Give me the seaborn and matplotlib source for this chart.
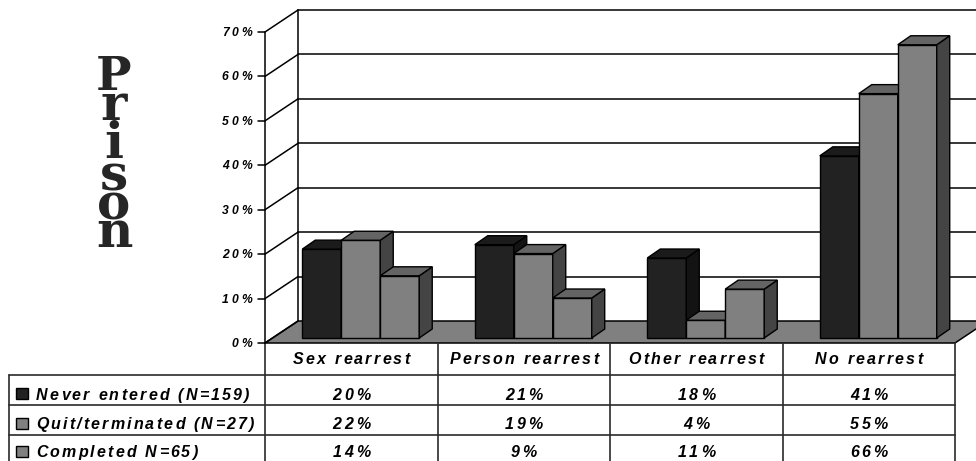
import numpy as np
import pandas as pd
import matplotlib
matplotlib.use("Agg")
import matplotlib.pyplot as plt
from matplotlib.patches import Polygon, Rectangle
from matplotlib import font_manager as fm
from matplotlib.ft2font import FT2Font
import seaborn as sns

# ---- data ----
categories = ["Sex rearrest", "Person rearrest", "Other rearrest", "No rearrest"]
groups = ["Never entered (N=159)", "Quit/terminated (N=27)", "Completed N=65)"]
never_entered = [20, 21, 18, 41]
quit_terminated = [22, 19, 4, 55]
completed = [14, 9, 11, 66]
tick_values = [0, 10, 20, 30, 40, 50, 60, 70]
side_title = "Prison"

series = [never_entered, quit_terminated, completed]
df = pd.DataFrame(
    [(c, g, v) for g, vals in zip(groups, series) for c, v in zip(categories, vals)],
    columns=["category", "group", "value"],
)

# ---- styling ----
W, H, DPI = 976, 461, 100
front_colors = ["#222222", "#808080", "#808080"]
top_colors = ["#1b1b1b", "#646464", "#646464"]
side_colors = ["#131313", "#444444", "#444444"]
floor_color = "#808080"
line_color = "#2a2a2a"

sns.set_style("white")
fig = plt.figure(figsize=(W / DPI, H / DPI), dpi=DPI)

# decoration layer in pixel coordinates
deco = fig.add_axes([0, 0, 1, 1])
deco.set_xlim(0, W)
deco.set_ylim(H, 0)
deco.set_axis_off()

# front plane of the chart box
x_front_l, x_front_r = 265, 955
y_zero = 343
px_per_pct = 4.443
depth_dx, depth_dy = 33, -22


def ypix(v):
    return y_zero - v * px_per_pct


def tracked(ax, x, y, s, size, track, ha="center", family="Liberation Sans",
            weight="bold", style="italic", color="black", zorder=5):
    """Draw a string with extra letter spacing (track, in pixels)."""
    prop = fm.FontProperties(family=family, weight=weight, style=style, size=size)
    font = FT2Font(fm.findfont(prop))
    font.set_size(size, 72)
    adv = [font.load_char(ord(c)).linearHoriAdvance / 65536 * DPI / 72 for c in s]
    total = sum(adv) + track * (len(s) - 1)
    x0 = {"center": x - total / 2, "right": x - total, "left": x}[ha]
    for c, a in zip(s, adv):
        ax.text(x0, y, c, fontproperties=prop, ha="left", va="baseline",
                color=color, zorder=zorder)
        x0 += a + track


# floor
floor = Polygon([(x_front_l, y_zero), (x_front_l + depth_dx, y_zero + depth_dy),
                 (x_front_r + depth_dx, y_zero + depth_dy), (x_front_r, y_zero)],
                closed=True, facecolor=floor_color, edgecolor="black", lw=1.1, zorder=1)
deco.add_patch(floor)

# walls: gridlines on back wall, diagonals on side wall
bx = x_front_l + depth_dx
for v in tick_values:
    yf = ypix(v)
    yb = yf + depth_dy
    if v > 0:
        deco.plot([bx, W + 20], [yb, yb], color="black", lw=1.1, zorder=1.5)
    deco.plot([x_front_l, bx], [yf, yb], color="black", lw=1.1, zorder=1.5)
    deco.plot([x_front_l - 7, x_front_l], [yf, yf], color="black", lw=1.1, zorder=1.5)
    tracked(deco, 252, yf + 4.0, f"{v}%", 8.7, 2.9, ha="right")
deco.plot([x_front_l, x_front_l], [y_zero, ypix(70)], color="black", lw=1.1, zorder=1.5)
deco.plot([bx, bx], [y_zero + depth_dy, ypix(70) + depth_dy], color="black", lw=1.1, zorder=1.5)

# vertical side title, one letter per line
letter_base = [90, 120, 158, 190, 219, 247]
letter_size = [34, 36, 36, 36, 36, 36]
for ch, base, size in zip(side_title, letter_base, letter_size):
    deco.text(114, base, ch, fontsize=size, ha="center", va="baseline",
              family="DejaVu Serif", weight="bold")

# ---- bars ----
bar_left = x_front_l + 9.5
bar_base = 338
ax = fig.add_axes([bar_left / W, (H - bar_base) / H,
                   (x_front_r - x_front_l) / W, 70 * px_per_pct / H])
ax.set_axis_off()
sns.barplot(data=df, x="category", y="value", hue="group", order=categories,
            hue_order=groups, palette=front_colors, saturation=1, width=0.678,
            edgecolor="black", linewidth=1, legend=False, ax=ax)
ax.set_xlim(-0.5, len(categories) - 0.5)
ax.set_ylim(0, 70)

# 3-D top and side faces for each bar, painted left to right
ddx = 13 / (x_front_r - x_front_l) * len(categories)
ddy = 9 / px_per_pct
bars = sorted(ax.patches, key=lambda p: p.get_x())
for i, p in enumerate(bars):
    k = 0 if p.get_facecolor()[0] < 0.3 else 1
    x0, w, h = p.get_x(), p.get_width(), p.get_height()
    z = 2 + i * 0.01
    p.set_zorder(z)
    p.set_clip_on(False)
    top = Polygon([(x0, h), (x0 + ddx, h + ddy), (x0 + w + ddx, h + ddy), (x0 + w, h)],
                  closed=True, facecolor=top_colors[k], edgecolor="black", lw=1,
                  zorder=z, clip_on=False)
    side = Polygon([(x0 + w, 0), (x0 + w + ddx, ddy), (x0 + w + ddx, h + ddy), (x0 + w, h)],
                   closed=True, facecolor=side_colors[k], edgecolor="black", lw=1,
                   zorder=z, clip_on=False)
    ax.add_patch(side)
    ax.add_patch(top)

# ---- data table ----
col_w = (x_front_r - x_front_l) / len(categories)
col_edges = [x_front_l + i * col_w for i in range(len(categories) + 1)]
row_lines = [375, 405, 435]
legend_left = 9
for x in col_edges:
    deco.plot([x, x], [y_zero, H + 5], color=line_color, lw=1.2, zorder=1)
for y in row_lines:
    deco.plot([legend_left, x_front_r], [y, y], color=line_color, lw=1.2, zorder=1)
deco.plot([legend_left, legend_left], [row_lines[0], H + 5], color=line_color, lw=1.2, zorder=1)

for i, c in enumerate(categories):
    tracked(deco, (col_edges[i] + col_edges[i + 1]) / 2, 364, c, 11.5, 2.2)

baselines = [399.5, 428.5, 457]
key_tops = [388, 418, 446]
for r, (g, vals) in enumerate(zip(groups, series)):
    deco.add_patch(Rectangle((16, key_tops[r]), 12, 11, facecolor=front_colors[r],
                             edgecolor="black", lw=1, zorder=3))
    tracked(deco, 36, baselines[r], g, 11.5, 2.2, ha="left")
    for i, v in enumerate(vals):
        tracked(deco, (col_edges[i] + col_edges[i + 1]) / 2, baselines[r], f"{v}%", 11.5, 2.6)

fig.savefig("out.png", dpi=DPI)
